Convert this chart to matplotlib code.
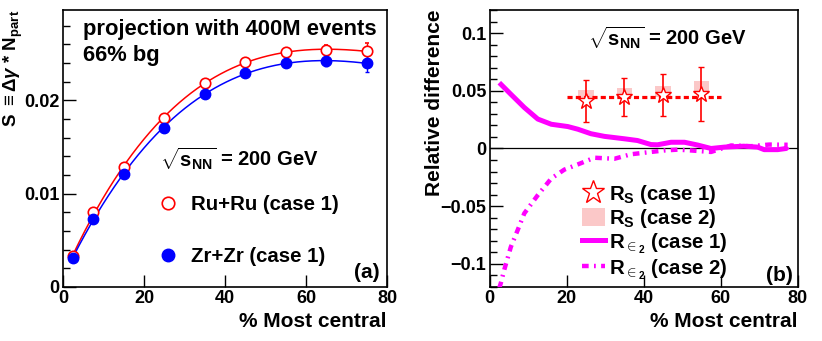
import numpy as np
import matplotlib
matplotlib.use('Agg')
import matplotlib.pyplot as plt
from matplotlib.lines import Line2D
from matplotlib.patches import Patch
from matplotlib.ticker import MultipleLocator, FuncFormatter

plt.rcParams['font.family'] = ['Liberation Sans', 'DejaVu Sans']
plt.rcParams['font.weight'] = 'bold'
plt.rcParams['axes.labelweight'] = 'bold'
plt.rcParams['mathtext.fontset'] = 'custom'
plt.rcParams['mathtext.rm'] = 'Liberation Sans:bold'
plt.rcParams['mathtext.bf'] = 'Liberation Sans:bold'
plt.rcParams['mathtext.it'] = 'Liberation Sans:italic'

# panel (a): S vs centrality
cent = [2.5, 7.5, 15, 25, 35, 45, 55, 65, 75]
s_ru = [0.00333, 0.0080, 0.0129, 0.0181, 0.0219, 0.0241, 0.0252, 0.0254, 0.0253]
s_zr = [0.00315, 0.00733, 0.01216, 0.0171, 0.0207, 0.0229, 0.0240, 0.0242, 0.0240]
err_ru = [0.0001, 0.00015, 0.0002, 0.0002, 0.0003, 0.0003, 0.0004, 0.0005, 0.0009]
err_zr = [0.0001, 0.00015, 0.0002, 0.0002, 0.0003, 0.0003, 0.0004, 0.0005, 0.0009]

# panel (b): relative differences
rs_cent = [25, 35, 45, 55]
rs_case1 = [0.0413, 0.0447, 0.0464, 0.0473]
rs_err = [0.018, 0.0167, 0.018, 0.0235]
rs_case2 = [0.0465, 0.048, 0.0495, 0.053]
rs_case2_half = [0.0045, 0.0045, 0.0045, 0.0058]
rs_fit_x = [20, 60]
rs_fit_y = [0.045, 0.045]

ecc1_x = [2.5, 5.5, 9, 12.5, 16, 20.3, 22.9, 26.3, 29.8, 35, 38.4, 41.9, 43.6,
          47.1, 50.6, 54, 57.5, 61, 66, 69.6, 71.3, 74.8, 77, 77.4]
ecc1_y = [0.057, 0.047, 0.0355, 0.0255, 0.021, 0.019, 0.0167, 0.0128, 0.0105,
          0.0084, 0.0069, 0.0034, 0.0032, 0.0054, 0.0054, 0.003, 0.0, 0.0012,
          0.002, 0.0012, -0.001, -0.001, 0.0, 0.0015]
ecc2_x = [2.5, 2.9, 3.8, 5.5, 7.3, 9, 12.5, 16, 19.4, 22.9, 27.2, 32.4, 36.7,
          41.9, 45.4, 48.8, 52.3, 57.5, 62.7, 67.9, 72.6, 77.4]
ecc2_y = [-0.121, -0.1166, -0.105, -0.0853, -0.0705, -0.0562, -0.0404, -0.026,
          -0.0183, -0.0138, -0.008, -0.0089, -0.005, -0.003, -0.0017, -0.001,
          -0.0017, -0.003, 0.0026, 0.002, 0.0034, 0.0032]

RED = '#ff0000'
BLUE = '#0000ff'
MAG = '#ff00ff'
PINK = '#fbc8c8'

fig = plt.figure(figsize=(8.22, 3.41), dpi=100)
ax1 = fig.add_axes([0.0766, 0.1584, 0.3942, 0.8123])
ax2 = fig.add_axes([0.5957, 0.1584, 0.3747, 0.8123])


def style_axes(ax):
    ax.tick_params(which='both', direction='in', top=False, right=False,
                   labelsize=13, width=1.0)
    ax.tick_params(which='major', length=9, pad=2.5)
    ax.tick_params(which='minor', length=5)
    for sp in ax.spines.values():
        sp.set_linewidth(1.2)
    ax.set_xlim(0, 80)
    ax.xaxis.set_major_locator(MultipleLocator(20))
    ax.set_xlabel('% Most central', loc='right', fontsize=15, labelpad=3)


# ---- panel (a)
style_axes(ax1)
xs = np.linspace(2.5, 75, 200)
ax1.plot(xs, np.polyval(np.polyfit(cent, s_ru, 4), xs), color=RED, lw=1.1)
ax1.plot(xs, np.polyval(np.polyfit(cent, s_zr, 4), xs), color=BLUE, lw=1.1)
ax1.errorbar(cent, s_ru, yerr=err_ru, fmt='o', mfc='white', mec=RED, ecolor=RED,
             ms=7.5, mew=1.2, elinewidth=1.0, capsize=1.5)
ax1.errorbar(cent, s_zr, yerr=err_zr, fmt='o', color=BLUE, ms=7.5,
             elinewidth=1.0, capsize=1.5)
ax1.set_ylim(0, 0.0297)
ax1.yaxis.set_major_locator(MultipleLocator(0.01))
ax1.yaxis.set_minor_locator(MultipleLocator(0.002))
ax1.yaxis.set_major_formatter(FuncFormatter(lambda v, p: '%g' % round(v, 4)))
ax1.set_ylabel(r'S $\equiv \Delta\gamma$ * N$_{\mathrm{part}}$', loc='top',
               fontsize=13.5)
ax1.yaxis.set_label_coords(-0.116, 1.0)
ax1.text(0.062, 0.93, 'projection with 400M events', transform=ax1.transAxes,
         fontsize=15.8, va='center')
ax1.text(0.062, 0.834, '66% bg', transform=ax1.transAxes, fontsize=15.8,
         va='center')
ax1.text(0.30, 0.462, r'$\sqrt{\mathrm{s}_{\mathrm{NN}}}$ = 200 GeV',
         transform=ax1.transAxes, fontsize=14.5, va='center')
ax1.text(0.978, 0.054, '(a)', transform=ax1.transAxes, fontsize=15,
         ha='right', va='center')
h_ru = Line2D([], [], ls='none', marker='o', mfc='white', mec=RED, ms=9, mew=1.2)
h_zr = Line2D([], [], ls='none', marker='o', color=BLUE, ms=9)
ax1.legend([h_ru, h_zr], ['Ru+Ru (case 1)', 'Zr+Zr (case 1)'], loc='center left',
           bbox_to_anchor=(0.29, 0.204), frameon=False, fontsize=14.7,
           handlelength=1.1, handletextpad=0.55, labelspacing=1.6,
           borderpad=0, borderaxespad=0)

# ---- panel (b)
style_axes(ax2)
ax2.axhline(0, color='black', lw=0.9)
ax2.bar(rs_cent, [2 * h for h in rs_case2_half],
        bottom=[c - h for c, h in zip(rs_case2, rs_case2_half)],
        width=4, color=PINK, edgecolor='none', zorder=2)
ax2.plot(rs_fit_x, rs_fit_y, color=RED, lw=2.3, dashes=(1.6, 1.0), zorder=3)
ax2.errorbar(rs_cent, rs_case1, yerr=rs_err, fmt='*', mfc='white', mec=RED,
             ecolor=RED, ms=12, mew=1.0, elinewidth=1.2, capsize=2, zorder=4)
ax2.plot(ecc1_x, ecc1_y, color=MAG, lw=3.6, solid_capstyle='butt', zorder=3)
ax2.plot(ecc2_x, ecc2_y, color=MAG, lw=3.2, dashes=(1.5, 1.2, 0.4, 1.2), zorder=3)
ax2.set_ylim(-0.12, 0.12)
ax2.yaxis.set_major_locator(MultipleLocator(0.05))
ax2.yaxis.set_minor_locator(MultipleLocator(0.01))
ax2.yaxis.set_major_formatter(
    FuncFormatter(lambda v, p: ('%g' % round(v, 4)).replace('-', '\u2212')))
ax2.set_ylabel('Relative difference', loc='top', fontsize=15)
ax2.yaxis.set_label_coords(-0.148, 1.0)
ax2.text(0.318, 0.90, r'$\sqrt{\mathrm{s}_{\mathrm{NN}}}$ = 200 GeV',
         transform=ax2.transAxes, fontsize=14.5, va='center')
ax2.text(0.984, 0.04, '(b)', transform=ax2.transAxes, fontsize=15,
         ha='right', va='center')
h_s1 = Line2D([], [], ls='none', marker='*', mfc='white', mec=RED, ms=17, mew=1.0)
h_s2 = Patch(facecolor=PINK, edgecolor='none')
h_e1 = Line2D([], [], color=MAG, lw=3.6)
h_e2 = Line2D([], [], color=MAG, lw=3.2, dashes=(1.5, 1.2, 0.4, 1.2))
ax2.legend([h_s1, h_s2, h_e1, h_e2],
           [r'R$_{\mathrm{S}}$ (case 1)', r'R$_{\mathrm{S}}$ (case 2)',
            r'R$_{\in_2}$ (case 1)', r'R$_{\in_2}$ (case 2)'],
           loc='center left', bbox_to_anchor=(0.30, 0.197), frameon=False,
           fontsize=14.7, handlelength=1.1, handleheight=1.0, handletextpad=0.2,
           labelspacing=0.05, borderpad=0, borderaxespad=0)

fig.savefig('out.png', dpi=100)
